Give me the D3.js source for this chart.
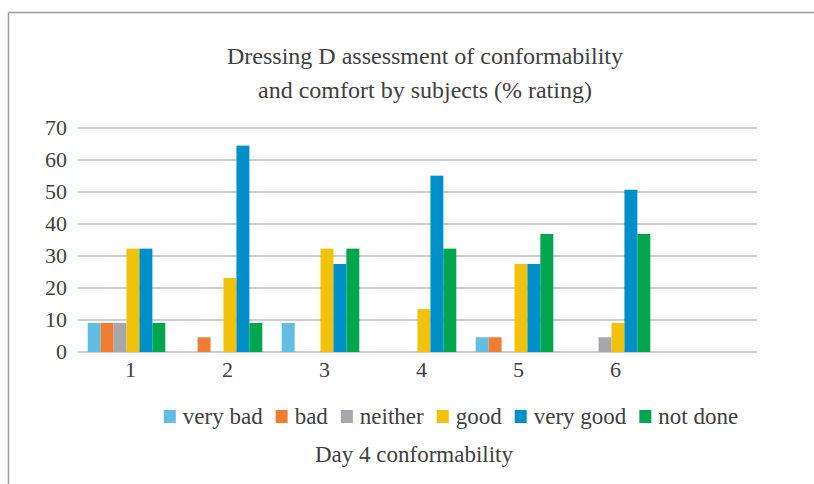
<!DOCTYPE html>
<html>
<head>
<meta charset="utf-8">
<script src="https://cdn.jsdelivr.net/npm/d3@7"></script>
<style>
  body { margin: 0; background: #fff; }
  text { font-family: "Liberation Serif", "DejaVu Serif", serif; fill: #404040; }
</style>
</head>
<body>
<div id="chart"></div>
<script>
// categories (7th slot is empty in the original)
var categories = ["1", "2", "3", "4", "5", "6", ""];
var seriesNames = ["very bad", "bad", "neither", "good", "very good", "not done"];
var seriesColors = ["#62bde3", "#ee7d31", "#a6a7aa", "#f2c20a", "#0090c9", "#00a550"];

// % rating per subject, one array per rating
var veryBad  = [9.1, 0, 9.1, 0, 4.6, 0];
var bad      = [9.1, 4.6, 0, 0, 4.6, 0];
var neither  = [9.1, 0, 0, 0, 0, 4.6];
var good     = [32.3, 23.1, 32.3, 13.4, 27.5, 9.1];
var veryGood = [32.3, 64.5, 27.5, 55.1, 27.5, 50.7];
var notDone  = [9.1, 9.1, 32.3, 32.3, 36.9, 36.9];
var series = [veryBad, bad, neither, good, veryGood, notDone];

var yTicks = [0, 10, 20, 30, 40, 50, 60, 70];
var titleLines = ["Dressing D assessment of conformability", "and comfort by subjects (% rating)"];
var axisTitle = "Day 4 conformability";

var W = 814, H = 484;
var margin = { top: 128, right: 57, bottom: 132, left: 78 };

var svg = d3.select("#chart").append("svg")
    .attr("width", W)
    .attr("height", H);

// frame (only top and left edges are visible in the crop)
svg.append("line").attr("x1", 8.5).attr("x2", W).attr("y1", 12.5).attr("y2", 12.5)
    .attr("stroke", "#9a9a9a").attr("stroke-width", 1.5);
svg.append("line").attr("x1", 8.5).attr("x2", 8.5).attr("y1", 12.5).attr("y2", H)
    .attr("stroke", "#9a9a9a").attr("stroke-width", 1.5);

var x0 = d3.scaleBand()
    .domain(categories.map(function (d, i) { return i; }))
    .range([margin.left, W - margin.right])
    .paddingInner(0.2)
    .paddingOuter(0.1);

var x1 = d3.scaleBand()
    .domain(seriesNames)
    .range([0, x0.bandwidth()])
    .padding(0);

var y = d3.scaleLinear()
    .domain([0, 70])
    .range([H - margin.bottom, margin.top]);

// gridlines
svg.append("g")
    .selectAll("line")
    .data(yTicks)
    .enter().append("line")
    .attr("x1", margin.left)
    .attr("x2", W - margin.right)
    .attr("y1", function (d) { return y(d); })
    .attr("y2", function (d) { return y(d); })
    .attr("stroke", "#bdbdbd")
    .attr("stroke-width", 1.5);

// y tick labels
svg.append("g")
    .selectAll("text")
    .data(yTicks)
    .enter().append("text")
    .attr("x", 67)
    .attr("y", function (d) { return y(d) + 7; })
    .attr("text-anchor", "end")
    .style("font-size", "22px")
    .text(function (d) { return d; });

// bars
var groups = svg.append("g")
    .selectAll("g")
    .data(series)
    .enter().append("g")
    .attr("fill", function (d, i) { return seriesColors[i]; });

groups.selectAll("rect")
    .data(function (d, i) { return d.map(function (v, j) { return { s: seriesNames[i], c: j, v: v }; }); })
    .enter().append("rect")
    .attr("x", function (d) { return x0(d.c) + x1(d.s); })
    .attr("width", x1.bandwidth())
    .attr("y", function (d) { return y(d.v); })
    .attr("height", function (d) { return y(0) - y(d.v); });

// x labels
svg.append("g")
    .selectAll("text")
    .data(categories)
    .enter().append("text")
    .attr("x", function (d, i) { return x0(i) + x0.bandwidth() / 2 + 4; })
    .attr("y", 377)
    .attr("text-anchor", "middle")
    .style("font-size", "22px")
    .text(function (d) { return d; });

// title
svg.append("g")
    .selectAll("text")
    .data(titleLines)
    .enter().append("text")
    .attr("x", 425)
    .attr("y", function (d, i) { return 64 + i * 34; })
    .attr("text-anchor", "middle")
    .style("font-size", "24px")
    .text(function (d) { return d; });

// legend
var legend = svg.append("g");
var cx = 0;
seriesNames.forEach(function (name, i) {
    var item = legend.append("g").attr("transform", "translate(" + cx + ",0)");
    item.append("rect")
        .attr("x", 0).attr("y", 410)
        .attr("width", 12).attr("height", 13)
        .attr("fill", seriesColors[i]);
    var t = item.append("text")
        .attr("x", 19).attr("y", 424)
        .style("font-size", "23px")
        .text(name);
    cx += 19 + t.node().getComputedTextLength() + 13;
});
legend.attr("transform", "translate(" + (451 - (cx - 13) / 2) + ",0)");

// axis title
svg.append("text")
    .attr("x", 414)
    .attr("y", 462)
    .attr("text-anchor", "middle")
    .style("font-size", "23px")
    .text(axisTitle);
</script>
</body>
</html>
